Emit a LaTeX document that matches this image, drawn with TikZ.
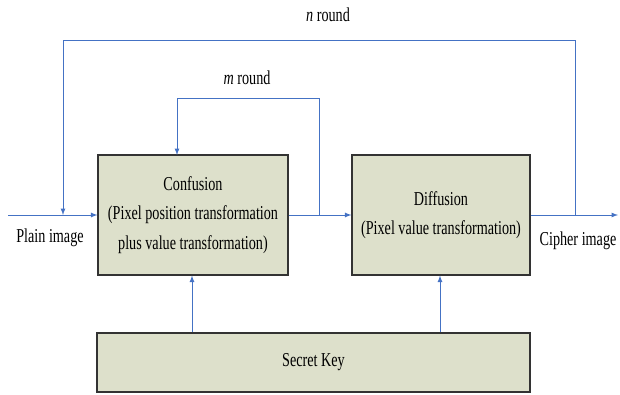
\documentclass[tikz,border=0pt]{standalone}
\usepackage{fontspec}
\setmainfont[FakeStretch=0.72]{Liberation Serif}
\usepackage{xcolor}
\usepackage{tikz}
\usetikzlibrary{positioning}
\definecolor{blocklila}{RGB}{221,224,203}
\definecolor{linienblau}{RGB}{68,114,196}
\tikzset{
  Block/.style={draw=black!80, line width=0.8pt, fill=blocklila, align=center,
    font={\fontsize{14}{21}\selectfont}}, % für Kästen
  Linie/.style={linienblau, line width=0.6pt}, % für Verbindungen
  Pfeil/.style={Linie,->}, % für Pfeile
  Text/.style={font={\fontsize{14}{16}\selectfont}} % für Beschriftungen
}

\begin{document}
\begin{tikzpicture}[x=0.025cm, y=-0.025cm,
>=latex % Voreinstellung für Pfeilspitzen
]
\useasboundingbox (0,0) rectangle (620,395);

%Bloecke
\node[Block, minimum width=4.75cm, minimum height=3cm] (conf) at (193,215)
  {Confusion\\(Pixel position transformation\\plus value transformation)};
\node[Block, minimum width=4.45cm, minimum height=3cm] (diff) at (441,215)
  {Diffusion\\(Pixel value transformation)};
\node[Block, minimum width=10.825cm, minimum height=1.475cm] (key) at (313.5,362.5)
  {Secret Key};

%Hilfspunkte
\coordinate (in) at (8,215);
\coordinate (out) at (618,215);
\coordinate (nabzw) at (575,215);
\coordinate (nziel) at (63,215);
\coordinate (mabzw) at (319,215);
\coordinate (mziel) at (177,155);

%Beschriftungen
\node[Text] (plain) at (50,238) {Plain image};
\node[Text] (cipher) at (578,241) {Cipher image};
\node[Text] (nround) at (328,15) {\textit{n} round};
\node[Text] (mround) at (247,78) {\textit{m} round};

%Pfeile
\draw[Pfeil] (in) -- (conf.west);
\draw[Pfeil] (conf.east) -- (diff.west);
\draw[Pfeil] (diff.east) -- (out);
\draw[Pfeil] (nabzw) -- (575,40) -- (63,40) -- (nziel);
\draw[Pfeil] (mabzw) -- (319,98) -- (177,98) -- (mziel);
\draw[Pfeil] (key.north -| 192,0) -- (conf.south -| 192,0);
\draw[Pfeil] (key.north -| 440,0) -- (diff.south -| 440,0);

\end{tikzpicture}
\end{document}
